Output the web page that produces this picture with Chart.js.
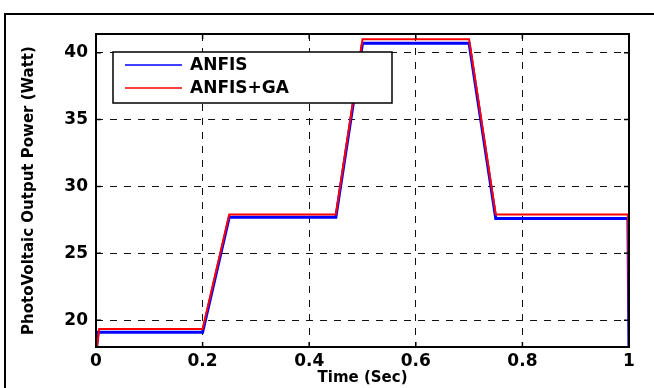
<!DOCTYPE html>
<html>
<head>
<meta charset="utf-8">
<script src="https://cdn.jsdelivr.net/npm/chart.js@4.4.0/dist/chart.umd.min.js"></script>
<style>
	html, body { margin: 0; padding: 0; background: #fff; overflow: hidden; }
	#frame { position: absolute; left: 4px; top: 13px; width: 700px; height: 420px; border: 2px solid #000; }
	#wrap { position: absolute; left: 0; top: 0; width: 654px; height: 388px; }
</style>
</head>
<body>
<div id="frame"></div>
<div id="wrap"><canvas id="pvChart" width="654" height="388"></canvas></div>
<script>
// time breakpoints (sec) and power (Watt)
const timeAnfis = [0, 0.004, 0.2, 0.25, 0.45, 0.5, 0.7, 0.75, 0.998, 1.0];
const powerAnfis = [17.5, 19.1, 19.1, 27.7, 27.7, 40.7, 40.7, 27.6, 27.6, 17.5];
const timeAnfisGa = [0, 0.006, 0.2, 0.25, 0.45, 0.5, 0.7, 0.75, 0.998, 1.0];
const powerAnfisGa = [17.5, 19.35, 19.35, 27.9, 27.9, 41.0, 41.0, 27.9, 27.9, 19.1];
const xTicks = [0, 0.2, 0.4, 0.6, 0.8, 1];
const yTicks = [20, 25, 30, 35, 40];

const FONT = '"DejaVu Sans", "Liberation Sans", Arial, sans-serif';

function toPoints(xs, ys) {
	return xs.map((x, i) => ({ x: x, y: ys[i] }));
}

const boxPlugin = {
	id: 'boxPlugin',
	afterDraw(chart) {
		const ctx = chart.ctx;
		const a = chart.chartArea;
		const xs = chart.scales.x;
		const ys = chart.scales.y;
		ctx.save();
		ctx.setLineDash([]);
		ctx.strokeStyle = '#000';
		// small inner ticks on all four sides
		ctx.lineWidth = 1.5;
		ctx.beginPath();
		xTicks.forEach(v => {
			const px = xs.getPixelForValue(v);
			ctx.moveTo(px, a.bottom); ctx.lineTo(px, a.bottom - 5);
			ctx.moveTo(px, a.top); ctx.lineTo(px, a.top + 5);
		});
		yTicks.forEach(v => {
			const py = ys.getPixelForValue(v);
			ctx.moveTo(a.left, py); ctx.lineTo(a.left + 5, py);
			ctx.moveTo(a.right, py); ctx.lineTo(a.right - 5, py);
		});
		ctx.stroke();
		// plot frame
		ctx.lineWidth = 2;
		ctx.strokeRect(a.left, a.top, a.right - a.left, a.bottom - a.top);

		// legend box
		const lx = a.left + 17, ly = a.top + 18, lw = 279, lh = 51;
		ctx.fillStyle = '#fff';
		ctx.fillRect(lx, ly, lw, lh);
		ctx.lineWidth = 1.5;
		ctx.strokeRect(lx, ly, lw, lh);
		ctx.font = 'bold 17px ' + FONT;
		ctx.textBaseline = 'middle';
		ctx.textAlign = 'left';
		const order = [0, 1];
		order.forEach(i => {
			const ds = chart.data.datasets[i];
			const yy = ly + 13 + i * 23;
			ctx.strokeStyle = ds.borderColor;
			ctx.lineWidth = 1.5;
			ctx.beginPath();
			ctx.moveTo(lx + 12, yy);
			ctx.lineTo(lx + 69, yy);
			ctx.stroke();
			ctx.fillStyle = '#000';
			ctx.fillText(ds.label, lx + 77, yy + 1);
		});
		ctx.restore();
	}
};

const tickFont = { family: FONT, size: 17, weight: 'bold' };
const titleFont = { family: FONT, size: 15, weight: 'bold' };

new Chart(document.getElementById('pvChart'), {
	type: 'line',
	data: {
		datasets: [
			{ label: 'ANFIS', data: toPoints(timeAnfis, powerAnfis), borderColor: '#0000ff', borderWidth: 3, pointRadius: 0, tension: 0, order: 1 },
			{ label: 'ANFIS+GA', data: toPoints(timeAnfisGa, powerAnfisGa), borderColor: '#ff0000', borderWidth: 2, pointRadius: 0, tension: 0, order: 0 }
		]
	},
	options: {
		responsive: false,
		animation: false,
		events: [],
		layout: { padding: { top: 34, right: 25, left: 0, bottom: 0 } },
		plugins: { legend: { display: false }, tooltip: { enabled: false } },
		scales: {
			x: {
				type: 'linear', min: 0, max: 1,
				afterBuildTicks: s => { s.ticks = xTicks.map(v => ({ value: v })); },
				afterFit: s => { s.height = 41; },
				ticks: { color: '#000', font: tickFont, padding: 4, maxRotation: 0, callback: v => String(v) },
				grid: { color: '#111', lineWidth: 1, drawTicks: false },
				border: { display: false, dash: [7, 7] },
				title: { display: true, text: 'Time (Sec)', color: '#000', font: titleFont, padding: { top: 0, bottom: 1 } }
			},
			y: {
				type: 'linear', min: 18, max: 41.4,
				afterBuildTicks: s => { s.ticks = yTicks.map(v => ({ value: v })); },
				afterFit: s => { s.width = 96; },
				ticks: { color: '#000', font: tickFont, padding: 8 },
				grid: { color: '#111', lineWidth: 1, drawTicks: false },
				border: { display: false, dash: [7, 7] },
				title: { display: true, text: 'PhotoVoltaic Output Power (Watt)', color: '#000', font: titleFont, padding: { top: 20, bottom: 0 } }
			}
		}
	},
	plugins: [boxPlugin]
});
</script>
</body>
</html>
